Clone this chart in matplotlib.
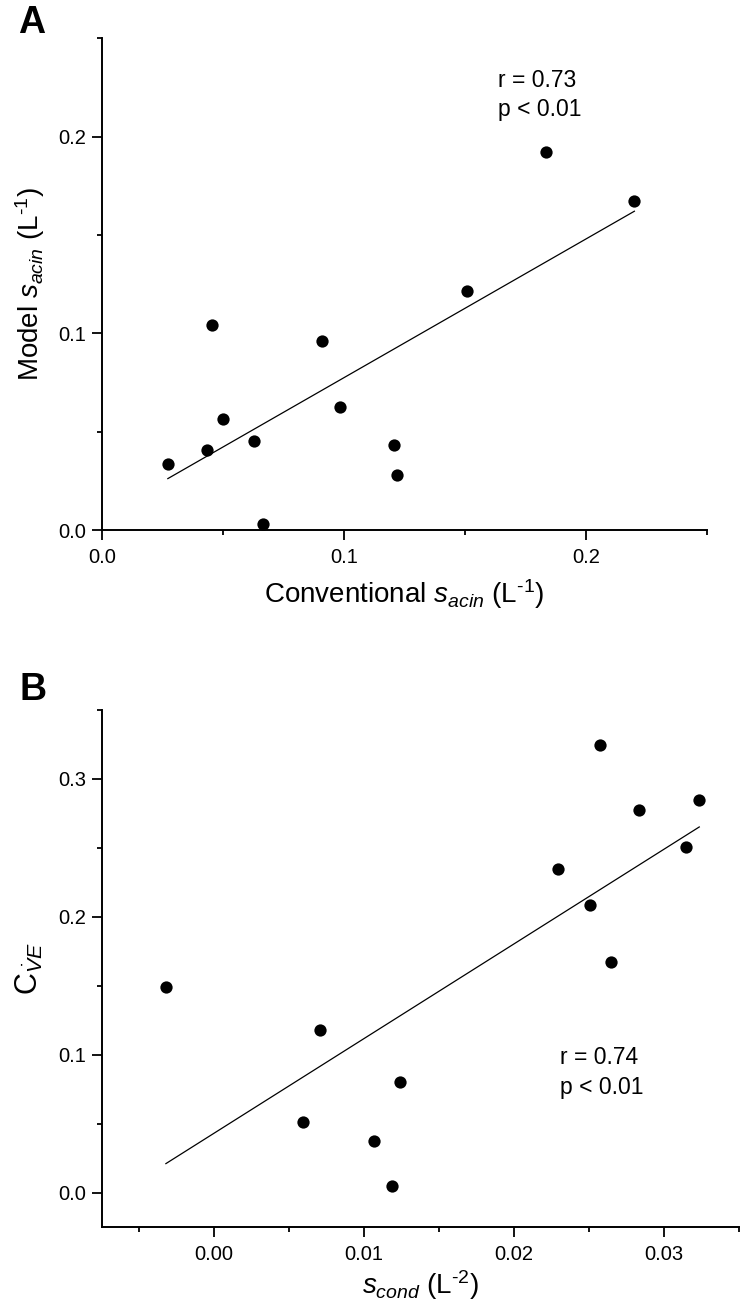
import matplotlib.pyplot as plt
import numpy as np
from matplotlib.ticker import MultipleLocator, FormatStrFormatter

plt.rcParams['font.family'] = ['Liberation Sans', 'DejaVu Sans']
plt.rcParams['mathtext.fontset'] = 'custom'
plt.rcParams['mathtext.rm'] = 'Liberation Sans'
plt.rcParams['mathtext.it'] = 'Liberation Sans:italic'
plt.rcParams['mathtext.bf'] = 'Liberation Sans:bold'

# Panel A data: conventional vs model s_acin (L^-1)
conv_sacin = [0.0273, 0.0434, 0.0456, 0.0501, 0.0627, 0.0665, 0.0909,
              0.0983, 0.1207, 0.1218, 0.1507, 0.1834, 0.2199]
model_sacin = [0.0334, 0.0405, 0.1042, 0.0563, 0.0454, 0.0031, 0.0962,
               0.0627, 0.0432, 0.0280, 0.1215, 0.1920, 0.1671]
stats_a = 'r = 0.73\np < 0.01'

# Panel B data: s_cond (L^-2) vs C_VE
s_cond = [-0.00322, 0.00709, 0.00595, 0.01238, 0.01067, 0.01185, 0.02576,
          0.02835, 0.03235, 0.03147, 0.02295, 0.02505, 0.02647]
c_ve = [0.1492, 0.1179, 0.0513, 0.0804, 0.0373, 0.0051, 0.3246,
        0.2777, 0.2847, 0.2505, 0.2346, 0.2084, 0.1675]
stats_b = 'r = 0.74\np < 0.01'

W, H = 741, 1315
fig = plt.figure(figsize=(W / 100, H / 100), dpi=100)
axA = fig.add_axes([101.7 / W, 1 - 530 / H, (707.3 - 101.7) / W, (530 - 38.3) / H])
axB = fig.add_axes([101.7 / W, 1 - 1227.3 / H, (739 - 101.7) / W, (1227.3 - 710) / H])


def style(ax):
    for side in ['top', 'right']:
        ax.spines[side].set_visible(False)
    for side in ['left', 'bottom']:
        ax.spines[side].set_linewidth(1.4)
    ax.tick_params(which='major', direction='out', length=7, width=1.3,
                   labelsize=14.5, pad=4)
    ax.tick_params(axis='x', which='major', pad=6)
    ax.tick_params(which='minor', direction='out', length=3.6, width=1.3)


def draw(ax, x, y, text, tx, ty):
    x = np.array(x)
    y = np.array(y)
    ax.scatter(x, y, s=78, color='black', zorder=5, clip_on=False, linewidths=0)
    k, b = np.polyfit(x, y, 1)
    xx = np.array([x.min(), x.max()])
    ax.plot(xx, k * xx + b, color='black', lw=0.9)
    ax.text(tx, ty, text, fontsize=16.5, ha='left', va='center', linespacing=1.35)


# Panel A
draw(axA, conv_sacin, model_sacin, stats_a, 0.1638, 0.2211)
axA.set_xlim(0, 0.25)
axA.set_ylim(0, 0.25)
axA.xaxis.set_major_locator(MultipleLocator(0.1))
axA.xaxis.set_minor_locator(MultipleLocator(0.05))
axA.yaxis.set_major_locator(MultipleLocator(0.1))
axA.yaxis.set_minor_locator(MultipleLocator(0.05))
axA.xaxis.set_major_formatter(FormatStrFormatter('%.1f'))
axA.yaxis.set_major_formatter(FormatStrFormatter('%.1f'))
style(axA)
axA.set_xlabel('Conventional $s_{acin}$ (L$^{\u2010\\mathrm{1}}$)', fontsize=20, labelpad=7)
axA.set_ylabel('Model $s_{acin}$ (L$^{\u2010\\mathrm{1}}$)', fontsize=20, labelpad=8)

# Panel B
draw(axB, s_cond, c_ve, stats_b, 0.02305, 0.0873)
axB.set_xlim(-0.0075, 0.035)
axB.set_ylim(-0.025, 0.35)
axB.xaxis.set_major_locator(MultipleLocator(0.01))
axB.xaxis.set_minor_locator(MultipleLocator(0.005))
axB.yaxis.set_major_locator(MultipleLocator(0.1))
axB.yaxis.set_minor_locator(MultipleLocator(0.05))
axB.xaxis.set_major_formatter(FormatStrFormatter('%.2f'))
axB.yaxis.set_major_formatter(FormatStrFormatter('%.1f'))
style(axB)
axB.set_xlabel('$s_{cond}$ (L$^{\u2010\\mathrm{2}}$)', fontsize=20, labelpad=3)
axB.set_ylabel(r'C$_{\dot{V}E}$', fontsize=22, labelpad=10)

# Panel letters
fig.text(18 / W, 1 - 33 / H, 'A', fontsize=27, fontweight='bold', ha='left', va='baseline')
fig.text(20 / W, 1 - 700 / H, 'B', fontsize=27, fontweight='bold', ha='left', va='baseline')

fig.savefig('out.png', dpi=100)
